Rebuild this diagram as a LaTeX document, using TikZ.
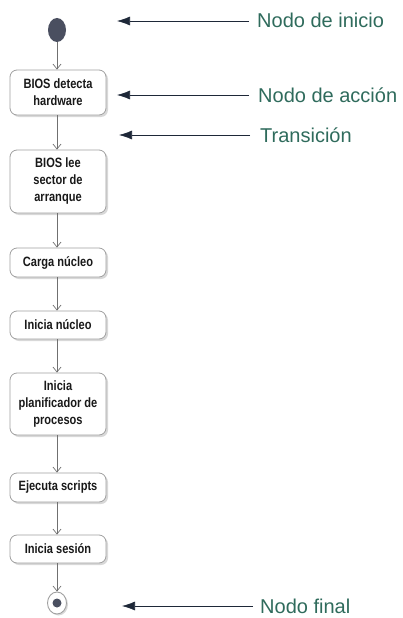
\documentclass[tikz,border=0pt]{standalone}
\usepackage{fontspec}
\setmainfont{Liberation Sans}
\newfontfamily\narrowfont[FakeStretch=0.82]{Liberation Sans}
\usetikzlibrary{arrows.meta,shapes.geometric,shadows}
\definecolor{labelgreen}{HTML}{2F6B5C}
\definecolor{navy}{HTML}{1E2838}
\definecolor{startfill}{HTML}{4A4F60}
\definecolor{boxline}{HTML}{A0A0A0}
\definecolor{flowline}{HTML}{707070}
\begin{document}
\begin{tikzpicture}[x=1pt,y=-1pt,
  actbox/.style={draw=boxline, line width=0.8pt, fill=white, rounded corners=7pt,
    minimum width=96pt, inner sep=2pt, align=center, text=black!90,
    font=\narrowfont\bfseries\fontsize{13.5}{17}\selectfont,
    drop shadow={shadow xshift=2pt, shadow yshift=-2pt, fill=black!30}},
  flow/.style={draw=flowline, line width=0.7pt, -{Straight Barb[length=5pt,width=8pt]}},
  note/.style={draw=black!55, line width=0.6pt, -{Latex[length=13pt,width=9pt]}, navy},
  notetext/.style={anchor=west, text=labelgreen, font=\fontsize{20}{22}\selectfont, inner sep=0pt}]
\useasboundingbox (0,0) rectangle (402,618);
% start node
\node[ellipse, fill=startfill, minimum width=18pt, minimum height=24pt, inner sep=0pt] (start) at (57,30) {};
% action nodes
\node[actbox, minimum height=45pt] (b1) at (58,92.5) {BIOS detecta\\hardware};
\node[actbox, minimum height=63pt] (b2) at (58,181.5) {BIOS lee\\sector de\\arranque};
\node[actbox, minimum height=29pt] (b3) at (58,262.5) {Carga núcleo};
\node[actbox, minimum height=28pt] (b4) at (58,325) {Inicia núcleo};
\node[actbox, minimum height=62pt] (b5) at (58,404) {Inicia\\planificador de\\procesos};
\node[actbox, minimum height=29pt] (b6) at (58,487.5) {Ejecuta scripts};
\node[actbox, minimum height=28pt] (b7) at (58,549) {Inicia sesión};
% final node
\node[ellipse, draw=boxline, line width=0.9pt, fill=white, minimum width=19pt, minimum height=22pt, inner sep=0pt,
  drop shadow={shadow xshift=1.5pt, shadow yshift=-1.5pt, fill=black!30}] (final) at (57,603) {};
\node[circle, fill=startfill, minimum size=9pt, inner sep=0pt] (finaldot) at (final.center) {};
% flows
\draw[flow] (start.south) -- (start.south |- b1.north);
\draw[flow] (b1.south -| 57,0) -- (b2.north -| 57,0);
\draw[flow] (b2.south -| 57,0) -- (b3.north -| 57,0);
\draw[flow] (b3.south -| 57,0) -- (b4.north -| 57,0);
\draw[flow] (b4.south -| 57,0) -- (b5.north -| 57,0);
\draw[flow] (b5.south -| 57,0) -- (b6.north -| 57,0);
\draw[flow] (b6.south -| 57,0) -- (b7.north -| 57,0);
\draw[flow] (b7.south -| 57,0) -- (final.north);
% labels
\node[notetext] (t1) at (257,20) {Nodo de inicio};
\node[notetext] (t2) at (258,95) {Nodo de acción};
\node[notetext] (t3) at (260,135) {Transición};
\node[notetext] (t4) at (260,606) {Nodo final};
\coordinate (a1) at (117,21);
\coordinate (a2) at (117,95);
\coordinate (a3) at (119,135);
\coordinate (a4) at (122,606);
\draw[note] (t1.west |- a1) ++(-8,0) -- (a1);
\draw[note] (t2.west |- a2) ++(-9,0) -- (a2);
\draw[note] (t3.west |- a3) ++(-10,0) -- (a3);
\draw[note] (t4.west |- a4) ++(-7,0) -- (a4);
\end{tikzpicture}
\end{document}
